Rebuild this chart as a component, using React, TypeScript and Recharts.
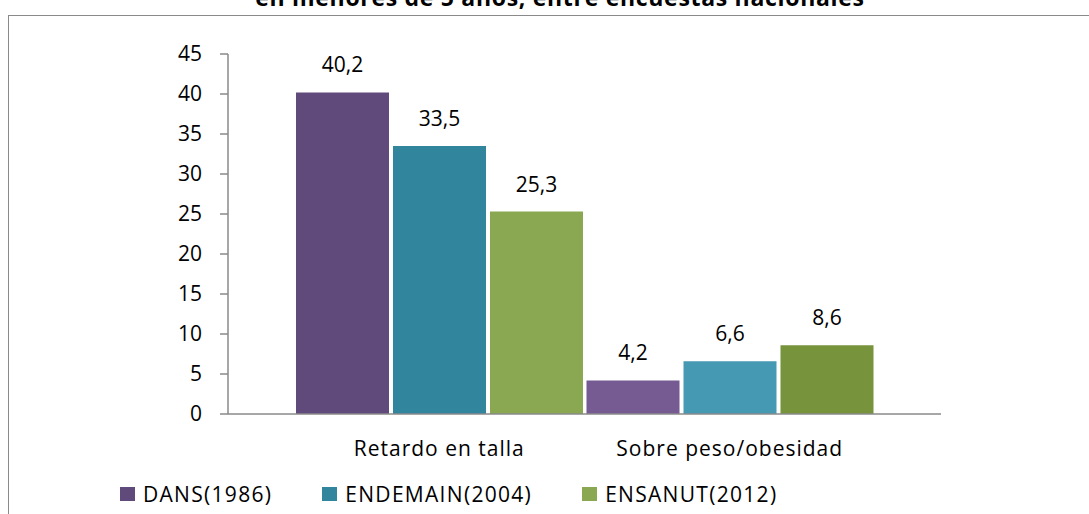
import React from 'react';
import { BarChart, Bar, XAxis, YAxis, Legend, LabelList, Cell } from 'recharts';

const categories = ['Retardo en talla', 'Sobre peso/obesidad'];
const seriesNames = ['DANS(1986)', 'ENDEMAIN(2004)', 'ENSANUT(2012)'];
const dans = [40.2, 4.2];
const endemain = [33.5, 6.6];
const ensanut = [25.3, 8.6];
const yTicks = [0, 5, 10, 15, 20, 25, 30, 35, 40, 45];

// colours per series, one per category (the second group is shaded a bit differently)
const dansColors = ['#604a7b', '#755b92'];
const endemainColors = ['#31859c', '#4599b3'];
const ensanutColors = ['#8aa752', '#77933c'];

const FONT = '"Open Sans", Lato, sans-serif';
const labelStyle = { fontSize: 21, fill: '#000', fontFamily: FONT };

const data = categories.map((name, i) => ({
  name,
  dans: dans[i],
  endemain: endemain[i],
  ensanut: ensanut[i],
}));

const fmt = (v: any) => String(v).replace('.', ',');

function LegendBox() {
  const items = [
    { name: seriesNames[0], color: dansColors[0] },
    { name: seriesNames[1], color: endemainColors[0] },
    { name: seriesNames[2], color: ensanutColors[0] },
  ];
  return (
    <div style={{ display: 'flex', alignItems: 'center', paddingLeft: 120, height: 40 }}>
      {items.map((it) => (
        <div key={it.name} style={{ display: 'flex', alignItems: 'center', marginRight: 50 }}>
          <span style={{ width: 15, height: 14, background: it.color, display: 'inline-block', marginRight: 8 }} />
          <span style={{ fontSize: 21, letterSpacing: 1.3, fontFamily: FONT, color: '#000' }}>{it.name}</span>
        </div>
      ))}
    </div>
  );
}

export default function App() {
  return (
    <div style={{ position: 'absolute', left: 0, top: 0, width: 1089, height: 514, background: '#fff', overflow: 'hidden' }}>
      <div
        style={{
          position: 'absolute',
          top: -19,
          left: 0,
          width: 1120,
          textAlign: 'center',
          fontFamily: FONT,
          fontWeight: 700,
          fontSize: 23,
          letterSpacing: 0.7,
          whiteSpace: 'nowrap',
        }}
      >
        en menores de 5 años, entre encuestas nacionales
      </div>
      <div
        style={{
          position: 'absolute',
          left: 8,
          top: 15,
          width: 1200,
          height: 600,
          border: '1.5px solid #8a8a8a',
        }}
      />
      <div style={{ position: 'absolute', left: 0, top: 0 }}>
        <BarChart
          width={1089}
          height={514}
          data={data}
          margin={{ top: 54, right: 148, left: 0, bottom: 0 }}
          barCategoryGap={2}
          barGap={4}
        >
          <XAxis
            dataKey="name"
            padding={{ left: 66, right: 66 }}
            height={60}
            tickLine={false}
            tickSize={0}
            tickMargin={27}
            axisLine={{ stroke: '#8a8a8a', strokeWidth: 1.5 }}
            tick={{ ...labelStyle, letterSpacing: 1 }}
          />
          <YAxis
            width={228}
            domain={[0, 45]}
            ticks={yTicks}
            interval={0}
            tickSize={8}
            tickMargin={18}
            axisLine={{ stroke: '#8a8a8a', strokeWidth: 1.5 }}
            tickLine={{ stroke: '#8a8a8a', strokeWidth: 1.5 }}
            tick={labelStyle}
          />
          <Legend verticalAlign="bottom" height={40} content={() => <LegendBox />} />
          <Bar dataKey="dans" name={seriesNames[0]} isAnimationActive={false}>
            {data.map((_, i) => (
              <Cell key={i} fill={dansColors[i]} />
            ))}
            <LabelList dataKey="dans" position="top" offset={20} formatter={fmt} style={labelStyle} />
          </Bar>
          <Bar dataKey="endemain" name={seriesNames[1]} isAnimationActive={false}>
            {data.map((_, i) => (
              <Cell key={i} fill={endemainColors[i]} />
            ))}
            <LabelList dataKey="endemain" position="top" offset={20} formatter={fmt} style={labelStyle} />
          </Bar>
          <Bar dataKey="ensanut" name={seriesNames[2]} isAnimationActive={false}>
            {data.map((_, i) => (
              <Cell key={i} fill={ensanutColors[i]} />
            ))}
            <LabelList dataKey="ensanut" position="top" offset={20} formatter={fmt} style={labelStyle} />
          </Bar>
        </BarChart>
      </div>
    </div>
  );
}
